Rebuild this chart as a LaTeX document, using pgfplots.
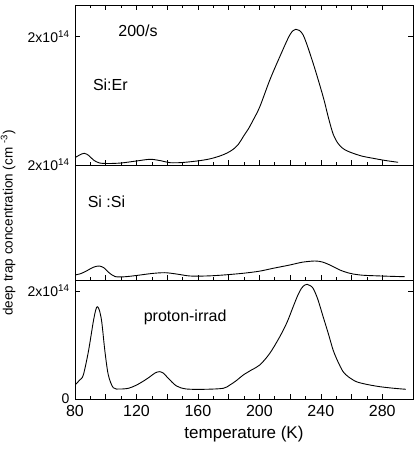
\documentclass[border=0pt]{standalone}
\usepackage{pgfplots}
\pgfplotsset{compat=1.18}
\usepackage{fontspec}
\setmainfont{Liberation Sans}

\begin{document}
\begin{tikzpicture}
\useasboundingbox (0pt,0pt) rectangle (415pt,457pt);
\pgfplotsset{
  panel/.style={
    scale only axis, width=338pt, anchor=south west,
    xmin=80, xmax=300,
    xtick={80,100,...,280}, minor x tick num=1,
    axis line style={line width=0.8pt},
    major tick length=5pt, minor tick length=3pt,
    every tick/.style={black, line width=0.6pt},
    tick align=inside, ytick pos=both, yticklabel pos=left,
    /pgf/number format/assume math mode=true,
    yticklabel style={font=\fontsize{14}{16}\selectfont, xshift=-2pt},
    xticklabel style={font=\fontsize{16}{18}\selectfont, yshift=-3pt},
  },
  curve/.style={black, line width=0.9pt, smooth, tension=0.5, mark=none},
}

% ---------- top panel: Si:Er ----------
\begin{axis}[panel, at={(75pt,292pt)}, height=160pt,
  ymin=0, ymax=160, xtick pos=both, xticklabel=\empty,
  ytick={0,128.3}, yticklabels={2x10\textsuperscript{14},2x10\textsuperscript{14}}]
\addplot[curve] coordinates {
(80,7.3) (83,10) (86,11.7) (89,9.5) (92,5) (96,2) (102,1.5) (110,2) (120,4)
(129,5.7) (136,4.2) (142,2.3) (150,2.5) (161,4.3) (168,6.2) (174.3,9) (179,12)
(183,15.7) (186.5,21) (189.5,28.3) (193,36.5) (196,45) (200.3,58.3) (206.8,85)
(213.3,108.3) (219.8,130) (223.7,135.7) (228.5,130) (235,101.7) (241.5,68.3)
(245,47) (248,31) (251,22) (254,17) (257,14.2) (261,11.7) (267,8.8) (274,6.7)
(282,4.5) (290.3,2.7)
};
\node[font=\fontsize{16}{18}\selectfont] at (axis cs:121,134) {200/s};
\node[font=\fontsize{16}{18}\selectfont] at (axis cs:103,80) {Si:Er};
\end{axis}

% ---------- middle panel: Si:Si ----------
\begin{axis}[panel, at={(75pt,177pt)}, height=115pt,
  ymin=0, ymax=115, xtick pos=lower, xticklabel=\empty, ytick=\empty,
  ylabel={deep trap concentration (cm \textsuperscript{-3})},
  ylabel style={font=\fontsize{13.5}{15}\selectfont, at={(axis description cs:-0.1982,0.4957)}, anchor=center}]
\addplot[curve] coordinates {
(80,5) (84,6.5) (88,9.5) (92,12.8) (95.8,14) (99,12) (102,7.5) (106,3.5) (112,3.2)
(120,4.5) (130,6.5) (138.5,7.3) (146,6) (154.8,4) (165,4) (175,4.8) (189.3,6.7)
(200,8.8) (209,11.7) (219.8,15) (228,17.8) (236.1,19) (241,18) (245.9,15)
(252.4,10) (257,7.5) (261,6) (267,4.8) (274,4.3) (285,3.7) (294.6,3.3)
};
\node[font=\fontsize{16}{18}\selectfont] at (axis cs:100.5,78.5) {Si :Si};
\end{axis}

% ---------- bottom panel: proton-irrad ----------
\begin{axis}[panel, at={(75pt,58pt)}, height=119pt,
  ymin=0, ymax=2.204, xtick pos=lower,
  xticklabels={80,,120,,160,,200,,240,,280},
  ytick={0,2}, yticklabels={0,2x10\textsuperscript{14}},
  xlabel={temperature (K)},
  xlabel style={font=\fontsize{17}{19}\selectfont, at={(axis description cs:0.5,0)}, anchor=center, yshift=-35pt}]
\addplot[curve] coordinates {
(80,0.259) (83,0.35) (85.4,0.444) (88.7,0.876) (91.9,1.431) (93.5,1.65) (94.5,1.709)
(95.8,1.65) (97.4,1.431) (99.5,0.876) (101.7,0.444) (104.9,0.209) (109.3,0.185)
(115,0.2) (120.1,0.259) (125,0.34) (128.8,0.413) (132,0.48) (134.8,0.506)
(137.5,0.48) (140.7,0.383) (146.1,0.241) (152.6,0.185) (165,0.18) (176.5,0.198)
(180.8,0.259) (185,0.34) (189.5,0.444) (195,0.54) (200.3,0.63) (206.8,0.846)
(213.3,1.154) (218,1.42) (222,1.709) (225,1.92) (227.4,2.05) (229.5,2.11)
(231.1,2.124) (233,2.1) (235,2.05) (238,1.85) (241.5,1.524) (245,1.2) (248,0.907)
(251,0.7) (254.5,0.506) (258,0.41) (263.2,0.32) (270,0.27) (278.4,0.228)
(287,0.2) (295.3,0.18)
};
\node[font=\fontsize{16}{18}\selectfont] at (axis cs:151.7,1.52) {proton-irrad};
\end{axis}
\end{tikzpicture}
\end{document}
